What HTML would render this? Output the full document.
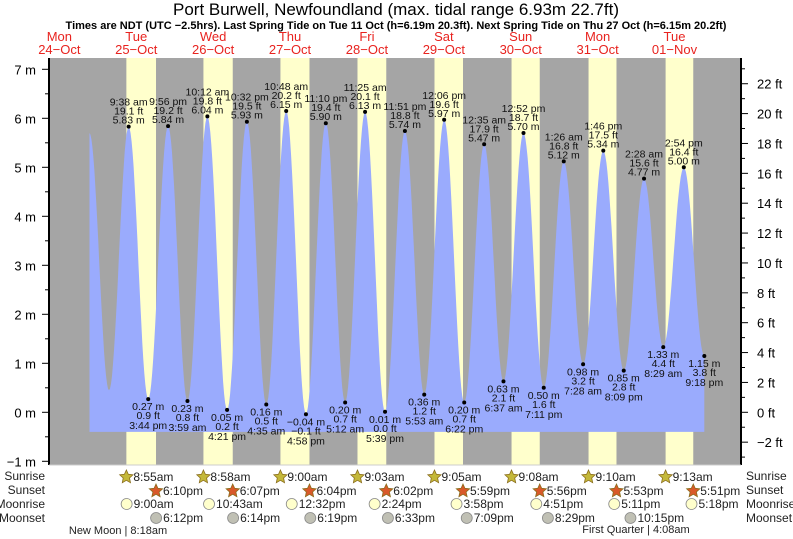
<!DOCTYPE html>
<html><head><meta charset="utf-8"><style>
body{margin:0;background:#fff;}
svg{display:block;font-family:"Liberation Sans",sans-serif;}
</style></head><body>
<svg id="chart" width="793" height="539" viewBox="0 0 793 539">
<text x="396" y="15" text-anchor="middle" font-size="17">Port Burwell, Newfoundland (max. tidal range 6.93m 22.7ft)</text>
<text x="396" y="29" text-anchor="middle" font-size="11" font-weight="bold">Times are NDT (UTC −2.5hrs). Last Spring Tide on Tue 11 Oct (h=6.19m 20.3ft). Next Spring Tide on Thu 27 Oct (h=6.15m 20.2ft)</text>
<g id="bg"></g>
<g id="tide"></g>
<g id="axes"></g>
<g id="labels"></g>
<g id="days"></g>
<g id="astro"></g>
</svg>
<script>
const dayNames=["Mon","Tue","Wed","Thu","Fri","Sat","Sun","Mon","Tue"];
const dayDates=["24\u2212Oct","25\u2212Oct","26\u2212Oct","27\u2212Oct","28\u2212Oct","29\u2212Oct","30\u2212Oct","31\u2212Oct","01\u2212Nov"];
// tide extremes: hours from 25 Oct 00:00, height m, label time
const tideTimes=[-2.6,3.5,9.633,15.733,21.933,27.983,34.2,40.35,46.533,52.583,58.8,64.967,71.167,77.2,83.417,89.65,95.85,101.883,108.1,114.367,120.583,126.617,132.867,139.183,145.433,151.467,157.767,164.15,170.483,176.483,182.9,189.3];
const tideHeights=[5.7,0.45,5.83,0.27,5.84,0.23,6.04,0.05,5.93,0.16,6.15,-0.04,5.90,0.20,6.13,0.01,5.74,0.36,5.97,0.20,5.47,0.63,5.70,0.50,5.12,0.98,5.34,0.85,4.77,1.33,5.00,1.15];
const tideLabels=["","","9:38 am","3:44 pm","9:56 pm","3:59 am","10:12 am","4:21 pm","10:32 pm","4:35 am","10:48 am","4:58 pm","11:10 pm","5:12 am","11:25 am","5:39 pm","11:51 pm","5:53 am","12:06 pm","6:22 pm","12:35 am","6:37 am","12:52 pm","7:11 pm","1:26 am","7:28 am","1:46 pm","8:09 pm","2:28 am","8:29 am","2:54 pm","9:18 pm"];
const sunrise=[8.917,8.967,9.0,9.05,9.083,9.133,9.167,9.217];
const sunriseLbl=["8:55am","8:58am","9:00am","9:03am","9:05am","9:08am","9:10am","9:13am"];
const sunset=[18.167,18.117,18.067,18.033,17.983,17.933,17.883,17.85];
const sunsetLbl=["6:10pm","6:07pm","6:04pm","6:02pm","5:59pm","5:56pm","5:53pm","5:51pm"];
const moonrise=[9.0,10.717,12.533,14.4,15.967,16.85,17.183,17.3];
const moonriseLbl=["9:00am","10:43am","12:32pm","2:24pm","3:58pm","4:51pm","5:11pm","5:18pm"];
const moonset=[18.2,18.233,18.317,18.55,19.15,20.483,22.25];
const moonsetLbl=["6:12pm","6:14pm","6:19pm","6:33pm","7:09pm","8:29pm","10:15pm"];
const mTicks=[-1,0,1,2,3,4,5,6,7];
const ftTicks=[-2,0,2,4,6,8,10,12,14,16,18,20,22];

const NS="http://www.w3.org/2000/svg";
const PX=97.8, PH=3.204, Y0=412.3, PM=49;
const X=t=>PX+t*PH, Y=h=>Y0-h*PM;
const L=49,R=741,T=58,B=465;
function mk(tag,at,parent,txt){const e=document.createElementNS(NS,tag);for(const k in at)e.setAttribute(k,at[k]);if(txt!==undefined)e.textContent=txt;document.getElementById(parent).appendChild(e);return e;}

let r=mk('rect',{x:L,y:T,width:R-L,height:B-T,fill:'#a5a5a5'},'bg');


for(let d=0;d<sunrise.length;d++){
  const x1=X(d*24+sunrise[d]),x2=X(d*24+sunset[d]);
  const b=mk('rect',{x:x1,y:T,width:x2-x1,height:B-T,fill:'#ffffcc'},'bg');
  
  
}
let pts=[];
for(let i=0;i<tideTimes.length-1;i++){
  const t1=tideTimes[i],t2=tideTimes[i+1],h1=tideHeights[i],h2=tideHeights[i+1];
  for(let k=0;k<=20;k++){const t=t1+(t2-t1)*k/20;const h=(h1+h2)/2+(h1-h2)/2*Math.cos(Math.PI*k/20);pts.push([X(t),Y(h)]);}
}
const base=Y(-0.4);
let d='M'+pts[0][0].toFixed(1)+','+base+' '+pts.map(p=>'L'+p[0].toFixed(1)+','+p[1].toFixed(1)).join(' ')+' L'+pts[pts.length-1][0].toFixed(1)+','+base+'Z';
const area=mk('path',{d:d,fill:'#9aabfd'},'tide');


for(let i=2;i<tideTimes.length;i++){
  const x=X(tideTimes[i]),y=Y(tideHeights[i]),h=tideHeights[i];
  const dot=mk('circle',{cx:x,cy:y,r:2,fill:'#000'},'labels');
  
  
  const m=h.toFixed(2).replace('-','\u2212')+' m', ft=(h/0.3048).toFixed(1).replace('-','\u2212')+' ft';
  const high=i%2==0;
  const lines=high?[tideLabels[i],ft,m]:[m,ft,tideLabels[i]];
  const ys=high?[y-21,y-12,y-3]:[y+11,y+20,y+30];
  lines.forEach((s,j)=>{const tx=mk('text',{x:x,y:ys[j],'text-anchor':'middle','font-size':10.5,fill:'#111'},'labels',s);
    
    });
}
mk('line',{x1:L,y1:T,x2:L,y2:B,stroke:'#000','stroke-width':2},'axes');
mk('line',{x1:R,y1:T,x2:R,y2:B,stroke:'#000','stroke-width':2},'axes');
mk('line',{x1:L,y1:B,x2:R,y2:B,stroke:'#ccc','stroke-width':1},'axes');
mTicks.forEach(v=>{const y=Y(v);mk('line',{x1:42,y1:y,x2:L,y2:y,stroke:'#000'},'axes');
  if(v<7)mk('line',{x1:45,y1:Y(v+0.5),x2:L,y2:Y(v+0.5),stroke:'#000'},'axes');
  const tx=mk('text',{x:36,y:y+5,'text-anchor':'end','font-size':13},'axes',String(v).replace('-','\u2212')+' m');
  
  });
ftTicks.forEach(v=>{const y=Y(v*0.3048);mk('line',{x1:R,y1:y,x2:R+7,y2:y,stroke:'#000'},'axes');
  mk('line',{x1:R,y1:Y((v+1)*0.3048),x2:R+4,y2:Y((v+1)*0.3048),stroke:'#000'},'axes');
  const tx=mk('text',{x:757,y:y+5,'font-size':13},'axes',String(v).replace('-','\u2212')+' ft');
  
  });
mk('line',{x1:R,y1:Y(-3*0.3048),x2:R+4,y2:Y(-3*0.3048),stroke:'#000'},'axes');
dayNames.forEach((n,i)=>{const x=X(i*24-12);
  const a=mk('text',{x:x,y:41,'text-anchor':'middle','font-size':13,fill:'#e8231f'},'days',n);
  
  
  const b=mk('text',{x:x,y:54,'text-anchor':'middle','font-size':13,fill:'#e8231f'},'days',dayDates[i]);
  
  });
const rows=[["Sunrise",480],["Sunset",494],["Moonrise",508],["Moonset",522]];
rows.forEach(rw=>{
  const a=mk('text',{x:45,y:rw[1],'text-anchor':'end','font-size':12,fill:'#222'},'astro',rw[0]);
  
  
  const b=mk('text',{x:746,y:rw[1],'font-size':12,fill:'#222'},'astro',rw[0]);
  
  });
function star(cx,cy,fill){let p=[];for(let k=0;k<10;k++){const a=-Math.PI/2+k*Math.PI/5,rr=k%2?3.3:7;p.push((cx+rr*Math.cos(a)).toFixed(1)+','+(cy+rr*Math.sin(a)).toFixed(1));}
  return mk('polygon',{points:p.join(' '),fill:fill,stroke:'#8a6d1c','stroke-width':0.8},'astro');}
function row(times,lbls,y,kind){times.forEach((t,i)=>{const x=X(i*24+t);let ic;
  if(kind=='sr')ic=star(x,y-4,'#c4b83a');else if(kind=='ss')ic=star(x,y-4,'#d9592a');
  else ic=mk('circle',{cx:x,cy:y-4,r:5.5,fill:kind=='mr'?'#ffffcc':'#c0c0b4',stroke:'#888','stroke-width':0.8},'astro');
  
  
  const tx=mk('text',{x:x+7,y:y,'font-size':12,fill:'#222'},'astro',lbls[i]);
  
  });}
row(sunrise,sunriseLbl,481,'sr');row(sunset,sunsetLbl,495,'ss');row(moonrise,moonriseLbl,508,'mr');row(moonset,moonsetLbl,522,'ms');
let p1=mk('text',{x:118,y:534,'text-anchor':'middle','font-size':11,fill:'#222'},'astro','New Moon | 8:18am');


let p2=mk('text',{x:636,y:533,'text-anchor':'middle','font-size':11,fill:'#222'},'astro','First Quarter | 4:08am');


</script>
</body></html>
